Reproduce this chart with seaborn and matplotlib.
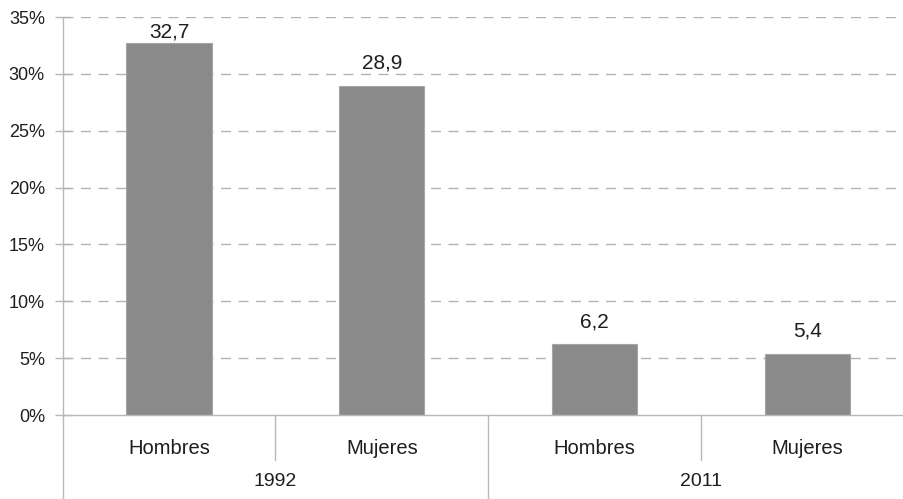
import matplotlib
matplotlib.use("Agg")
import matplotlib.pyplot as plt
import seaborn as sns
import pandas as pd
from matplotlib.lines import Line2D

years = ["1992", "1992", "2011", "2011"]
sexes = ["Hombres", "Mujeres", "Hombres", "Mujeres"]
values = [32.7, 28.9, 6.2, 5.4]
y_ticks = [0, 5, 10, 15, 20, 25, 30, 35]

df = pd.DataFrame({"year": years, "sex": sexes, "value": values})
df["key"] = df["year"] + "-" + df["sex"]

sns.set_theme(style="white")
plt.rcParams["font.family"] = ["Liberation Sans", "DejaVu Sans"]

W, H = 904, 499
fig = plt.figure(figsize=(W / 100, H / 100), dpi=100)
ax = fig.add_axes([62.6 / W, 84 / H, 851.2 / W, 398 / H])

grid_col = "#b3b3b3"
axis_col = "#b8b8b8"
text_col = "#1e1e1e"

sns.barplot(data=df, x="key", y="value", order=list(df["key"]),
            color="#8a8a8a", saturation=1, width=0.4,
            edgecolor="#a6a6a6", linewidth=0.8, ax=ax, zorder=3)

ax.set_xlim(-0.5, 3.5)
ax.set_ylim(0, 35)
ax.set_yticks(y_ticks)
ax.set_yticklabels([f"{t}%" for t in y_ticks], fontsize=13, color=text_col)
ax.set_xticks([])
ax.set_xlabel("")
ax.set_ylabel("")

for t in y_ticks[1:]:
    ax.axhline(t, color=grid_col, linestyle=(0, (7.2, 5.4)), linewidth=1.0,
               zorder=1)

for s in ["top", "right", "left"]:
    ax.spines[s].set_visible(False)
ax.spines["bottom"].set_color(axis_col)
ax.spines["bottom"].set_linewidth(1.0)
ax.spines["bottom"].set_zorder(4)

ax.tick_params(axis="y", left=True, direction="inout", length=11.5,
               width=1.0, color=axis_col, pad=7)

# left axis line running down through the category area
ax.add_line(Line2D([0, 0], [1, -0.215], transform=ax.transAxes,
                   color=axis_col, linewidth=1.0, clip_on=False, zorder=4))

# separators between categories and year groups
bt = ax.get_xaxis_transform()
for xs, low in [(0.5, -0.113), (2.5, -0.113), (1.5, -0.215)]:
    ax.add_line(Line2D([xs, xs], [0, low], transform=bt, color=axis_col,
                       linewidth=1.0, clip_on=False))

for i, s in enumerate(sexes):
    ax.text(i, -0.098, s, transform=bt, ha="center", va="baseline",
            fontsize=14.5, color=text_col)

for g, yr in enumerate(["1992", "2011"]):
    ax.text(2 * g + 0.5, -0.178, yr, transform=bt, ha="center", va="baseline",
            fontsize=14, color=text_col)

# value labels sit above each bar, kept inside the plotting area
label_top = 33.2
for i, v in enumerate(values):
    ax.text(i, min(v + 1.53, label_top), f"{v:.1f}".replace(".", ","),
            ha="center", va="baseline", fontsize=15, color=text_col, zorder=5)

fig.savefig("out.png", dpi=100)
